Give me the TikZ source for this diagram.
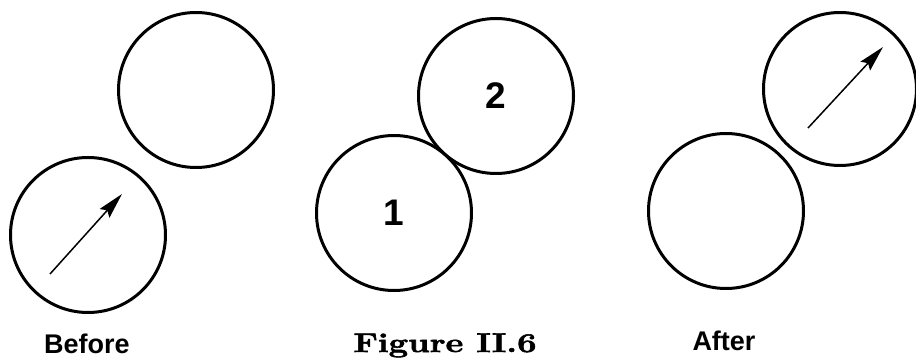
\documentclass[tikz,border=0pt]{standalone}
\usepackage{fontspec}
\newfontfamily\labelfont{Liberation Sans}
\newfontfamily\capfont{Latin Modern Roman}[BoldFeatures={FakeBold=2}]
\usetikzlibrary{arrows.meta}

\begin{document}
\begin{tikzpicture}[
    x=1pt, y=-1pt,
    ball/.style={draw, circle, line width=3pt, inner sep=0pt, minimum size=#1},
    ball/.default=155pt,
    arr/.style={-{Stealth[length=26pt, width=13pt, inset=4pt]}, line width=1.5pt},
    sanslbl/.style={font=\labelfont\bfseries\fontsize{27}{32}\selectfont, inner sep=0pt},
    numlbl/.style={font=\labelfont\bfseries\fontsize{37}{40}\selectfont}
]
\useasboundingbox (0,0) rectangle (916,358);

% before
\node[ball] (bmove) at (88,235) {};
\node[ball] (bstill) at (196,90) {};
\coordinate (btail) at ([shift={(-38,39)}]bmove.center);
\coordinate (bhead) at ([shift={(34,-41)}]bmove.center);
\draw[arr] (btail) -- (bhead);

% collision
\node[ball, numlbl] (one) at (394,213) {1};
\node[ball, numlbl] (two) at (496,96) {2};

% after
\node[ball] (astill) at (726,211) {};
\node[ball, minimum size=153pt] (amove) at (840,89) {};
\coordinate (atail) at ([shift={(-32,39)}]amove.center);
\coordinate (ahead) at ([shift={(43,-42)}]amove.center);
\draw[arr] (atail) -- (ahead);

\node[sanslbl, anchor=base] (before) at (87,353) {Before};
\node[inner sep=0pt, anchor=base, font=\capfont\bfseries\fontsize{27}{32}\selectfont] (caption) at (445,352) {\scalebox{1.28}[1]{Figure II.6}};
\node[sanslbl, anchor=base] (after) at (724,350) {After};
\end{tikzpicture}
\end{document}
